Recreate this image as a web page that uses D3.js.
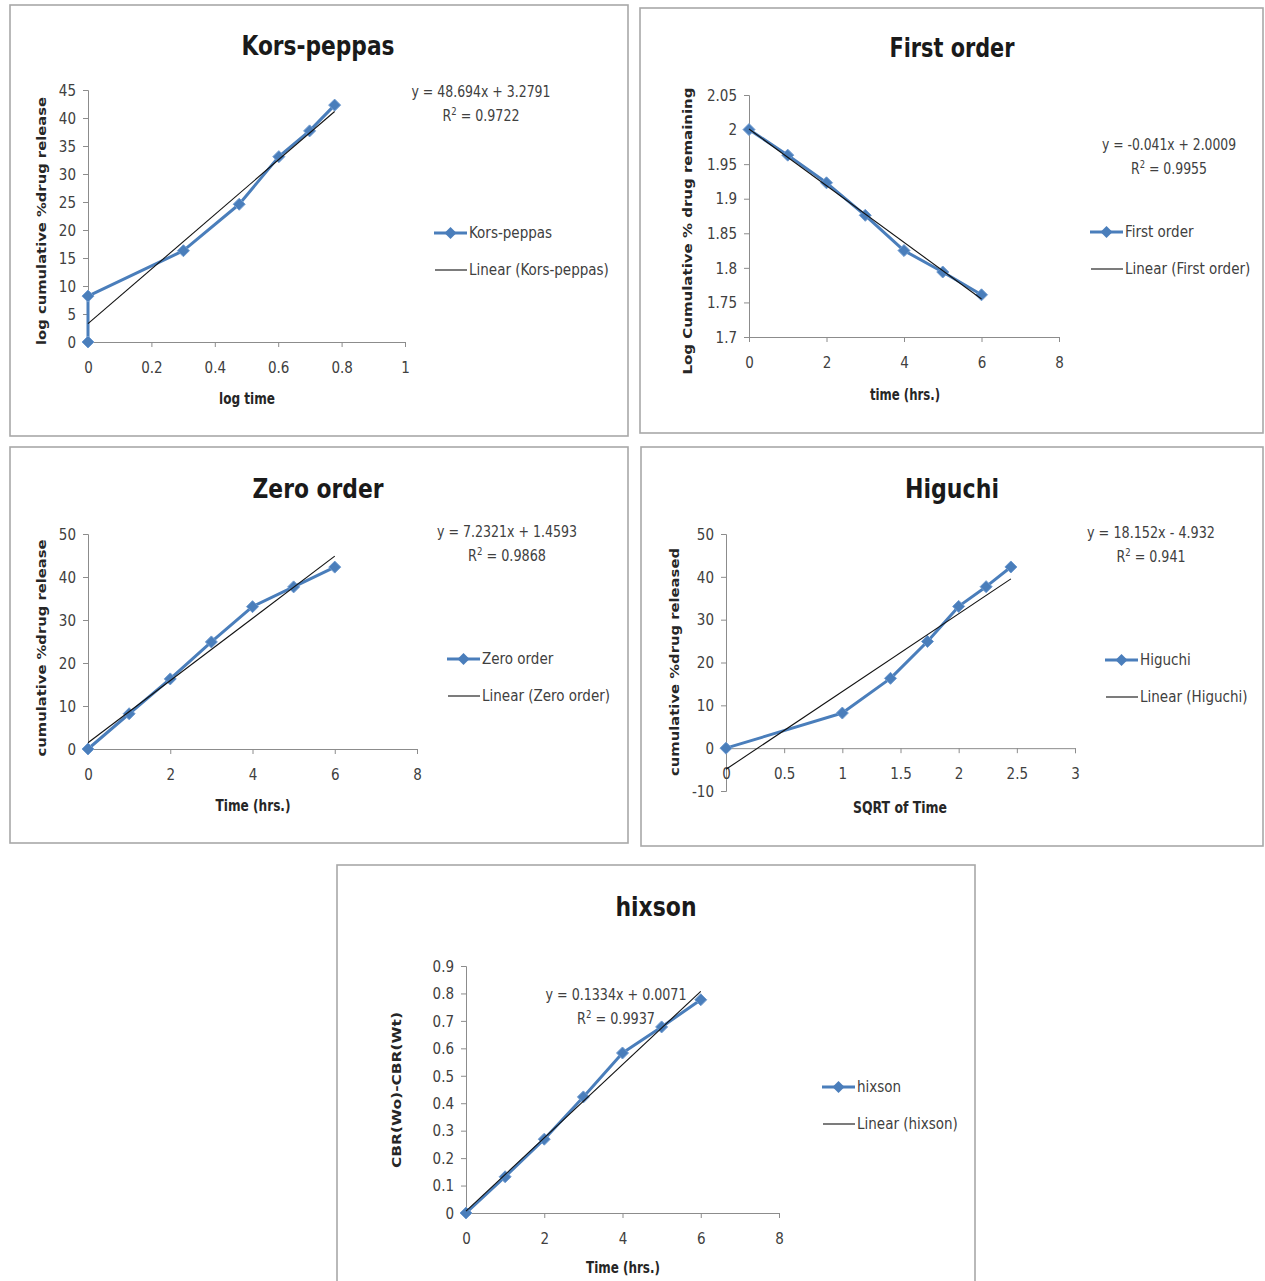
<!DOCTYPE html>
<meta charset="utf-8">
<style>
body { margin: 0; background: #fff; }
svg { display: block; }
.tick text { font-family: 'Liberation Sans Narrow', 'DejaVu Sans Condensed', 'Open Sans', sans-serif; font-size: 15px; fill: #404040; }
.ttl { font-family: 'Liberation Sans Narrow', 'DejaVu Sans Condensed', sans-serif; font-weight: bold; fill: #1a1a1a; }
.xlab { font-family: 'Liberation Sans Narrow', 'DejaVu Sans Condensed', sans-serif; font-weight: bold; font-size: 15px; fill: #262626; }
.ylab { font-family: 'DejaVu Sans', sans-serif; font-weight: bold; font-size: 12.5px; fill: #262626; }
.eq, .leg { font-family: 'Liberation Sans Narrow', 'DejaVu Sans Condensed', sans-serif; font-size: 15px; fill: #404040; }
</style>
<svg width="1265" height="1281"></svg>
<script src="https://cdn.jsdelivr.net/npm/d3@7"></script>
<script>

// data
var timeHrs = [0, 1, 2, 3, 4, 5, 6];
var cumRelease = [0, 8.2, 16.3, 24.9, 33.1, 37.7, 42.3];
var logTime = [0, 0, 0.301, 0.477, 0.602, 0.699, 0.778];
var korsY = [0, 8.2, 16.3, 24.6, 33.1, 37.7, 42.3];
var logRemaining = [2.000, 1.963, 1.923, 1.876, 1.825, 1.794, 1.761];
var sqrtTime = [0, 1, 1.414, 1.732, 2, 2.236, 2.449];
var hixsonY = [0, 0.132, 0.269, 0.423, 0.583, 0.678, 0.777];

var korsTicksX = [0, 0.2, 0.4, 0.6, 0.8, 1], korsTicksY = [0, 5, 10, 15, 20, 25, 30, 35, 40, 45];
var firstTicksX = [0, 2, 4, 6, 8], firstTicksY = [1.7, 1.75, 1.8, 1.85, 1.9, 1.95, 2, 2.05];
var zeroTicksX = [0, 2, 4, 6, 8], zeroTicksY = [0, 10, 20, 30, 40, 50];
var higTicksX = [0, 0.5, 1, 1.5, 2, 2.5, 3], higTicksY = [-10, 0, 10, 20, 30, 40, 50];
var hixTicksX = [0, 2, 4, 6, 8], hixTicksY = [0, 0.1, 0.2, 0.3, 0.4, 0.5, 0.6, 0.7, 0.8, 0.9];

// trendline fits as printed on the chart
var fits = {
  kors:  {m: 48.694, b: 3.2791, eq: "y = 48.694x + 3.2791", r2: "0.9722"},
  first: {m: -0.041, b: 2.0009, eq: "y = -0.041x + 2.0009", r2: "0.9955"},
  zero:  {m: 7.2321, b: 1.4593, eq: "y = 7.2321x + 1.4593", r2: "0.9868"},
  hig:   {m: 18.152, b: -4.932, eq: "y = 18.152x - 4.932", r2: "0.941"},
  hix:   {m: 0.1334, b: 0.0071, eq: "y = 0.1334x + 0.0071", r2: "0.9937"}
};

var blue = "#4a7ebb";
var svg = d3.select("svg");

var panels = [
  {box: [10, 5, 628, 436], name: "Kors-peppas", title: [318, 55, 153],
   px: [88, 405], py: [342, 90], xd: [0, 1], yd: [0, 45], xt: korsTicksX, yt: korsTicksY, xAt: 0,
   xs: logTime, ys: korsY, fit: fits.kors,
   xlab: ["log time", 247, 404, 56], ylab: ["log cumulative %drug release", 46, 221, 248],
   eq: [481, 97, 139, 77], leg: [434, 233]},
  {box: [640, 8, 1263, 433], name: "First order", title: [952, 57, 125],
   px: [749, 1059], py: [337, 95], xd: [0, 8], yd: [1.7, 2.05], xt: firstTicksX, yt: firstTicksY, xAt: 1.7,
   xs: timeHrs, ys: logRemaining, fit: fits.first,
   xlab: ["time (hrs.)", 905, 400, 70], ylab: ["Log Cumulative % drug remaining", 692, 231, 287],
   eq: [1169, 150, 134, 76], leg: [1090, 232]},
  {box: [10, 447, 628, 843], name: "Zero order", title: [318, 498, 131],
   px: [88, 417], py: [749, 534], xd: [0, 8], yd: [0, 50], xt: zeroTicksX, yt: zeroTicksY, xAt: 0,
   xs: timeHrs, ys: cumRelease, fit: fits.zero,
   xlab: ["Time (hrs.)", 253, 811, 75], ylab: ["cumulative %drug release", 46, 648, 217],
   eq: [507, 537, 140, 78], leg: [447, 659]},
  {box: [641, 447, 1263, 846], name: "Higuchi", title: [952, 498, 94],
   px: [726, 1075], py: [791, 534], xd: [0, 3], yd: [-10, 50], xt: higTicksX, yt: higTicksY, xAt: 0,
   xs: sqrtTime, ys: cumRelease, fit: fits.hig,
   xlab: ["SQRT of Time", 900, 813, 94], ylab: ["cumulative %drug released", 679, 662, 228],
   eq: [1151, 538, 128, 69], leg: [1105, 660]},
  {box: [337, 865, 975, 1295], name: "hixson", title: [656, 916, 81],
   px: [466, 779], py: [1213, 966], xd: [0, 8], yd: [0, 0.9], xt: hixTicksX, yt: hixTicksY, xAt: 0,
   xs: timeHrs, ys: hixsonY, fit: fits.hix,
   xlab: ["Time (hrs.)", 623, 1273, 74], ylab: ["CBR(Wo)-CBR(Wt)", 401, 1090, 156],
   eq: [616, 1000, 141, 78], leg: [822, 1087]}
];

var diamond = "M0,-6L6,0L0,6L-6,0Z";
var fmt = function(d) { return String(+d.toFixed(2)); };

panels.forEach(function(p) {
  var g = svg.append("g");
  var b = p.box;
  g.append("rect").attr("x", b[0]).attr("y", b[1]).attr("width", b[2] - b[0]).attr("height", b[3] - b[1])
    .attr("fill", "#fff").attr("stroke", "#a8a8a8").attr("stroke-width", 1.6);

  g.append("text").attr("class", "ttl").attr("x", p.title[0]).attr("y", p.title[1])
    .attr("text-anchor", "middle").attr("font-size", 27)
    .attr("textLength", p.title[2]).attr("lengthAdjust", "spacingAndGlyphs").text(p.name);

  var x = d3.scaleLinear().domain(p.xd).range(p.px);
  var y = d3.scaleLinear().domain(p.yd).range(p.py);

  var ya = g.append("g").attr("transform", "translate(" + p.px[0] + ",0)")
    .call(d3.axisLeft(y).tickValues(p.yt).tickFormat(fmt).tickSize(5).tickPadding(7));
  var xa = g.append("g").attr("transform", "translate(0," + y(p.xAt) + ")")
    .call(d3.axisBottom(x).tickValues(p.xt).tickFormat(fmt).tickSize(5).tickPadding(15));
  [ya, xa].forEach(function(a) {
    a.select(".domain").attr("stroke", "#8c8c8c");
    a.selectAll(".tick line").attr("stroke", "#8c8c8c");
    a.selectAll(".tick text").attr("font-size", null).attr("font-family", null);
  });
  ya.selectAll(".tick text").attr("dy", "0.35em");

  g.append("text").attr("class", "xlab").attr("x", p.xlab[1]).attr("y", p.xlab[2])
    .attr("text-anchor", "middle").attr("textLength", p.xlab[3]).attr("lengthAdjust", "spacingAndGlyphs").text(p.xlab[0]);
  g.append("text").attr("class", "ylab")
    .attr("transform", "translate(" + p.ylab[1] + "," + p.ylab[2] + ") rotate(-90)")
    .attr("text-anchor", "middle").attr("textLength", p.ylab[3]).attr("lengthAdjust", "spacingAndGlyphs").text(p.ylab[0]);

  var pts = p.xs.map(function(v, i) { return [v, p.ys[i]]; });
  var line = d3.line().x(function(d) { return x(d[0]); }).y(function(d) { return y(d[1]); });

  g.append("path").datum(pts).attr("d", line).attr("fill", "none")
    .attr("stroke", blue).attr("stroke-width", 3).attr("stroke-linejoin", "round");
  g.selectAll(".mk").data(pts).enter().append("path")
    .attr("d", diamond).attr("fill", blue).attr("stroke", "#6f9bd0").attr("stroke-width", 1)
    .attr("transform", function(d) { return "translate(" + x(d[0]) + "," + y(d[1]) + ")"; });

  var x0 = d3.min(p.xs), x1 = d3.max(p.xs);
  var fit = p.fit;
  g.append("path").datum([[x0, fit.m * x0 + fit.b], [x1, fit.m * x1 + fit.b]])
    .attr("d", line).attr("fill", "none").attr("stroke", "#111").attr("stroke-width", 1.1);

  g.append("text").attr("class", "eq").attr("text-anchor", "middle")
    .attr("x", p.eq[0]).attr("y", p.eq[1])
    .attr("textLength", p.eq[2]).attr("lengthAdjust", "spacingAndGlyphs").text(fit.eq);
  var r2 = g.append("text").attr("class", "eq").attr("text-anchor", "middle")
    .attr("x", p.eq[0]).attr("y", p.eq[1] + 24)
    .attr("textLength", p.eq[3]).attr("lengthAdjust", "spacingAndGlyphs");
  r2.append("tspan").text("R");
  r2.append("tspan").attr("font-size", 10).attr("dy", -6).text("2");
  r2.append("tspan").attr("dy", 6).text(" = " + fit.r2);

  var lx = p.leg[0], ly = p.leg[1];
  g.append("line").attr("x1", lx).attr("x2", lx + 33).attr("y1", ly).attr("y2", ly)
    .attr("stroke", blue).attr("stroke-width", 3);
  g.append("path").attr("d", diamond).attr("fill", blue)
    .attr("transform", "translate(" + (lx + 16.5) + "," + ly + ")");
  g.append("text").attr("class", "leg").attr("x", lx + 35).attr("y", ly + 5).text(p.name);
  g.append("line").attr("x1", lx + 1).attr("x2", lx + 33).attr("y1", ly + 37).attr("y2", ly + 37)
    .attr("stroke", "#111").attr("stroke-width", 1.1);
  g.append("text").attr("class", "leg").attr("x", lx + 35).attr("y", ly + 42).text("Linear (" + p.name + ")");
});

</script>
